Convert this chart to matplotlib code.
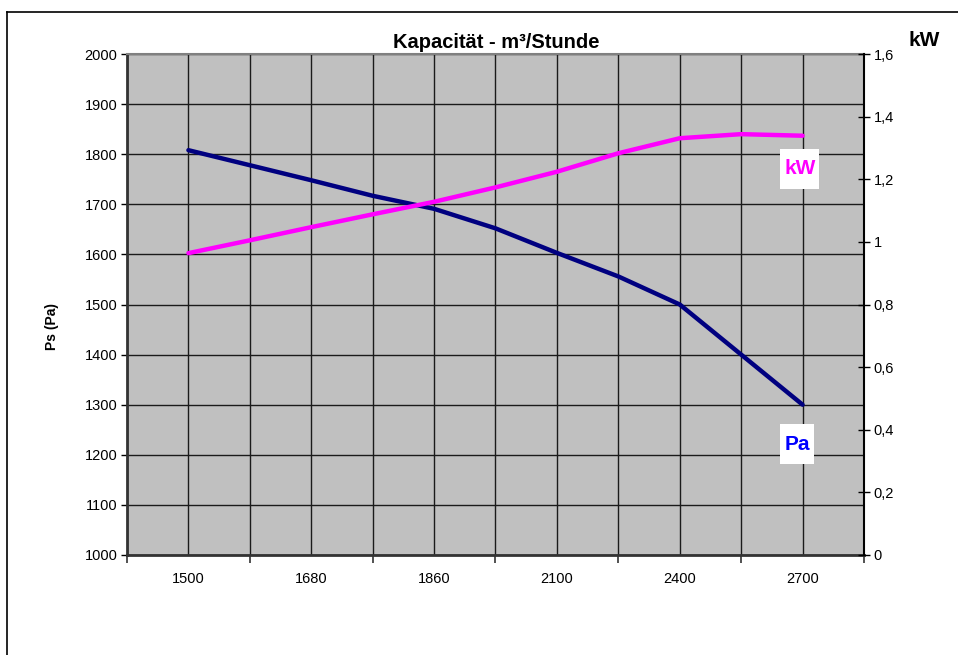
import matplotlib
matplotlib.use('Agg')
import matplotlib.pyplot as plt
from matplotlib.patches import Rectangle
from matplotlib.ticker import FixedLocator, FuncFormatter

plt.rcParams['font.family'] = ['Liberation Sans', 'DejaVu Sans']

# category axis (only every second category is labelled in the original)
categories = ['1500', '', '1680', '', '1860', '', '2100', '', '2400', '', '2700']
# static pressure Ps (Pa)
pa_values = [1808, 1778, 1748, 1717, 1691, 1652, 1603, 1556, 1500, 1400, 1300]
# power (kW)
kw_values = [0.964, 1.005, 1.047, 1.088, 1.128, 1.174, 1.224, 1.283, 1.331, 1.344, 1.339]

left_ticks = list(range(1000, 2001, 100))
right_ticks = [0, 0.2, 0.4, 0.6, 0.8, 1.0, 1.2, 1.4, 1.6]

W, H = 958, 655
fig = plt.figure(figsize=(W / 100, H / 100), dpi=100)
ax = fig.add_axes([127 / W, 1 - 555 / H, 737 / W, 501 / H])
ax.set_facecolor('#C0C0C0')

x = list(range(len(categories)))
ax.set_xlim(-1, len(categories))
ax.set_ylim(1000, 2000)

# grid: vertical lines at every category, horizontal every 100 Pa
for gx in range(-1, len(categories) + 1):
    ax.axvline(gx, color='#1a1a1a', lw=1.0, zorder=1)
for gy in left_ticks:
    ax.axhline(gy, color='#1a1a1a', lw=1.0, zorder=1)

ax.plot(x, pa_values, color='#000080', lw=3.2, solid_capstyle='round', zorder=3)

# x ticks: marks between labelled categories, labels on even categories
ax.xaxis.set_major_locator(FixedLocator(list(range(-1, len(categories) + 1, 2))))
ax.xaxis.set_major_formatter(FuncFormatter(lambda v, p: ''))
ax.xaxis.set_minor_locator(FixedLocator(x))
ax.xaxis.set_minor_formatter(FuncFormatter(lambda v, p: categories[int(round(v))]))
ax.tick_params(axis='x', which='major', direction='out', length=6, width=1.2, color='#333333')
ax.tick_params(axis='x', which='minor', length=0, labelsize=10.5, pad=12)

ax.set_yticks(left_ticks)
ax.tick_params(axis='y', direction='out', length=4, width=1.0, labelsize=10.5, pad=3)

for side in ['left', 'bottom']:
    ax.spines[side].set_linewidth(2.0)
    ax.spines[side].set_color('#333333')
ax.spines['top'].set_color('#808080')
ax.spines['top'].set_linewidth(1.5)
ax.spines['right'].set_visible(False)

ax2 = ax.twinx()
ax2.set_ylim(0, 1.6)
ax2.plot(x, kw_values, color='#FF00FF', lw=3.2, solid_capstyle='round', zorder=3)
ax2.set_yticks(right_ticks)
ax2.yaxis.set_major_formatter(FuncFormatter(lambda v, p: ('%g' % round(v, 1)).replace('.', ',')))
ax2.tick_params(axis='y', direction='inout', length=8, width=1.0, labelsize=10.5, pad=3)
ax2.spines['right'].set_linewidth(1.5)
ax2.spines['right'].set_color('black')
for side in ['left', 'bottom', 'top']:
    ax2.spines[side].set_visible(False)

fig.text(496 / W, 1 - 42 / H, 'Kapacität - m³/Stunde', fontsize=14.5, fontweight='bold',
         ha='center', va='center')
fig.text(924 / W, 1 - 40 / H, 'kW', fontsize=15, fontweight='bold', ha='center', va='center')
fig.text(52 / W, 1 - 327 / H, 'Ps (Pa)', fontsize=10, fontweight='bold', rotation=90,
         ha='center', va='center')

# series labels in white boxes (axes fraction coords)
ax2.add_patch(Rectangle((653 / 737, 366 / 501), 39 / 737, 40 / 501, transform=ax2.transAxes,
                        facecolor='white', edgecolor='none', zorder=4))
ax2.text(800 / 737 - 127 / 737, 386 / 501, 'kW', transform=ax2.transAxes, color='#FF00FF',
         fontsize=15, fontweight='bold', ha='center', va='center', zorder=5)
ax2.add_patch(Rectangle((653 / 737, 91 / 501), 34 / 737, 40 / 501, transform=ax2.transAxes,
                        facecolor='white', edgecolor='none', zorder=4))
ax2.text(670 / 737, 111 / 501, 'Pa', transform=ax2.transAxes, color='#0000FF',
         fontsize=15, fontweight='bold', ha='center', va='center', zorder=5)

# chart border (left and top edges visible)
fig.add_artist(plt.Line2D([7 / W, 7 / W], [0, 1 - 11.5 / H], color='black', lw=1.2,
                          transform=fig.transFigure))
fig.add_artist(plt.Line2D([7 / W, 1], [1 - 11.5 / H, 1 - 11.5 / H], color='black', lw=1.2,
                          transform=fig.transFigure))

fig.savefig('out.png', dpi=100)
